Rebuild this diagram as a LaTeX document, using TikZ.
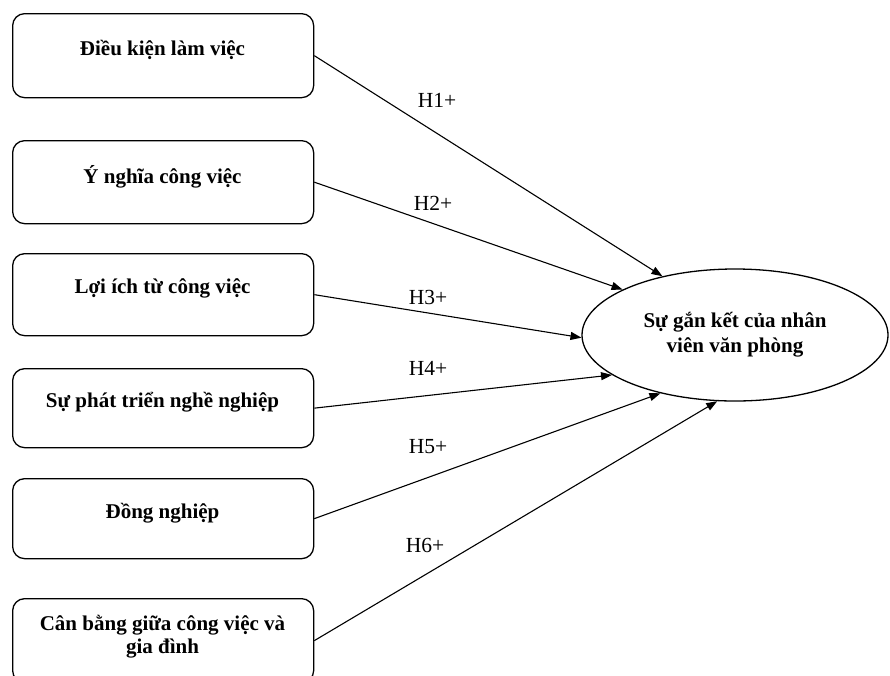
\documentclass[tikz,border=0pt]{standalone}
\usepackage{fontspec}
\setmainfont{Liberation Serif}
\usetikzlibrary{shapes.geometric,arrows.meta}
\begin{document}
\begin{tikzpicture}[x=1pt,y=-1pt,
  stepbox/.style={draw, rounded corners=12pt, line width=1.3pt, inner sep=0, minimum width=301pt, anchor=north west},
  boxtext/.style={font=\bfseries\fontsize{21}{23}\selectfont, align=center, inner sep=0},
  lbl/.style={font=\fontsize{21.5}{24}\selectfont, inner sep=0},
  link/.style={line width=1.1pt, -{Triangle[length=11pt,width=8pt]}}]
\clip (0,0) rectangle (890,675);
% boxes
\node[stepbox, minimum height=84pt] (b1) at (12,13) {};
\node[stepbox, minimum height=83pt] (b2) at (12,140) {};
\node[stepbox, minimum height=82pt] (b3) at (12,253) {};
\node[stepbox, minimum height=79pt] (b4) at (12,368) {};
\node[stepbox, minimum height=80pt] (b5) at (12,478) {};
\node[stepbox, minimum height=84pt] (b6) at (12,598) {};
% box texts
\node[boxtext] (t1) at (162.5,50) {Điều kiện làm việc};
\node[boxtext] (t2) at (162.5,177) {Ý nghĩa công việc};
\node[boxtext] (t3) at (162.5,288) {Lợi ích từ công việc};
\node[boxtext] (t4) at (162.5,402) {Sự phát triển nghề nghiệp};
\node[boxtext] (t5) at (162.5,513) {Đồng nghiệp};
\node[boxtext] (t6) at (162.5,637) {Cân bằng giữa công việc và\\gia đình};
% ellipse
\node[draw, ellipse, line width=1.3pt, minimum width=306pt, minimum height=132pt, inner sep=0,
      align=center, font=\bfseries\fontsize{21}{25}\selectfont] (e) at (735,335)
      {Sự gắn kết của nhân\\viên văn phòng};
% labels
\node[lbl] (h1) at (437,100) {H1+};
\node[lbl] (h2) at (433,203) {H2+};
\node[lbl] (h3) at (428,297) {H3+};
\node[lbl] (h4) at (428,368) {H4+};
\node[lbl] (h5) at (428,447) {H5+};
\node[lbl] (h6) at (425,545) {H6+};
% arrows
\draw[link] (b1.east) -- (e.141);
\draw[link] (b2.east) -- (e.158);
\draw[link] (b3.east) -- (e.181);
\draw[link] (b4.east) -- (e.198);
\draw[link] (b5.east) -- (e.218);
\draw[link] (b6.east) -- (e.255);
\end{tikzpicture}
\end{document}
